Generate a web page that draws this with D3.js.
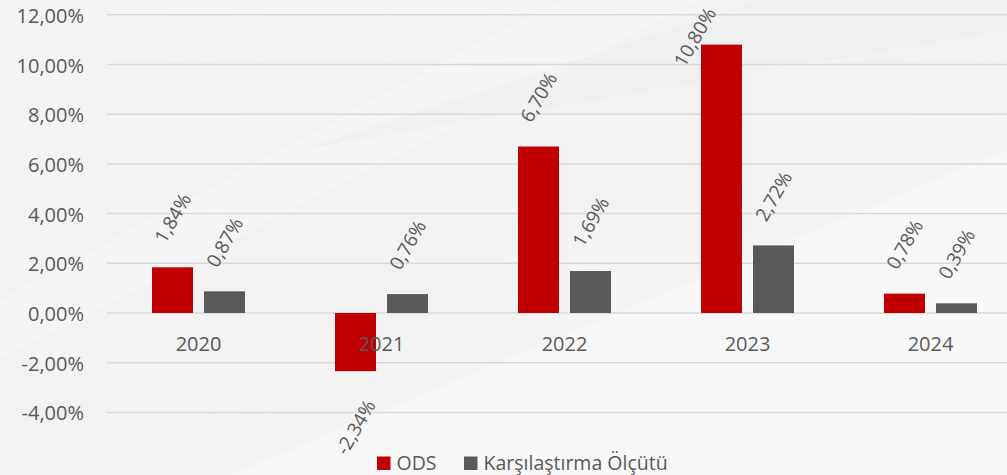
<!DOCTYPE html>
<html>
<head>
<meta charset="utf-8">
<script src="https://cdn.jsdelivr.net/npm/d3@7"></script>
<style>
  html, body { margin: 0; padding: 0; background: #f4f4f4; }
  svg { display: block; }
  text { font-family: "Open Sans", sans-serif; fill: #595959; }
</style>
</head>
<body>
<svg id="chart" width="1007" height="475"></svg>
<script>
const categories = ["2020", "2021", "2022", "2023", "2024"];
const seriesNames = ["ODS", "Karşılaştırma Ölçütü"];
const odsValues = [1.84, -2.34, 6.70, 10.80, 0.78];
const benchmarkValues = [0.87, 0.76, 1.69, 2.72, 0.39];
const yTicks = [-4, -2, 0, 2, 4, 6, 8, 10, 12];
const seriesColors = ["#c00000", "#595959"];

const W = 1007, H = 475;
const svg = d3.select("#chart");

// background
const defs = svg.append("defs");
const g1 = defs.append("linearGradient").attr("id", "bg").attr("x1", "0").attr("y1", "0").attr("x2", "1").attr("y2", "1");
g1.append("stop").attr("offset", "0").attr("stop-color", "#f4f4f4");
g1.append("stop").attr("offset", "0.5").attr("stop-color", "#f2f2f2");
g1.append("stop").attr("offset", "1").attr("stop-color", "#f9f9f9");
svg.append("rect").attr("width", W).attr("height", H).attr("fill", "url(#bg)");
svg.append("path").attr("d", "M230,475 L1007,150 L1007,475 Z").attr("fill", "#f8f8f8");
svg.append("path").attr("d", "M0,300 L560,0 L700,0 L0,360 Z").attr("fill", "#f6f6f6").attr("opacity", 0.7);
svg.append("path").attr("d", "M300,150 L1007,30 L1007,0 L760,0 Z").attr("fill", "#efefef").attr("opacity", 0.6);

const y = d3.scaleLinear().domain([-4, 12]).range([412.4, 14.8]);
const x0 = d3.scaleBand().domain(categories).range([107, 1022]).paddingInner(0).paddingOuter(0);
const x1 = d3.scaleBand().domain(seriesNames).range([45, 138]).paddingInner(0.2115).paddingOuter(0);

// gridlines
svg.append("g").selectAll("line").data(yTicks).join("line")
  .attr("x1", 107).attr("x2", W)
  .attr("y1", d => y(d)).attr("y2", d => y(d))
  .attr("stroke", "#d9d9d9").attr("stroke-width", 1.5);

// y axis labels
const fmt = v => v.toFixed(2).replace(".", ",") + "%";
svg.append("g").selectAll("text").data(yTicks).join("text")
  .attr("x", 84).attr("y", d => y(d) + 8)
  .attr("text-anchor", "end").attr("font-size", 20)
  .text(d => fmt(d));

// bars
const rows = categories.map((c, i) => ({ cat: c, vals: [odsValues[i], benchmarkValues[i]] }));
const groups = svg.append("g").selectAll("g").data(rows).join("g")
  .attr("transform", d => `translate(${x0(d.cat)},0)`);
groups.selectAll("rect").data(d => d.vals.map((v, j) => ({ v, s: seriesNames[j], j })))
  .join("rect")
  .attr("x", d => x1(d.s)).attr("width", x1.bandwidth())
  .attr("y", d => y(Math.max(0, d.v)))
  .attr("height", d => Math.abs(y(d.v) - y(0)))
  .attr("fill", d => seriesColors[d.j]);

// category labels
svg.append("g").selectAll("text").data(categories).join("text")
  .attr("x", d => x0(d) + x0.bandwidth() / 2).attr("y", 351)
  .attr("text-anchor", "middle").attr("font-size", 20)
  .text(d => d);

// data labels (rotated -60)
const labG = svg.append("g");
const ang = 60 * Math.PI / 180;
rows.forEach(r => {
  r.vals.forEach((v, j) => {
    const cx0 = x0(r.cat) + x1(seriesNames[j]) + x1.bandwidth() / 2;
    const t = labG.append("text")
      .attr("font-size", 19)
      .attr("text-anchor", "middle")
      .attr("dominant-baseline", "central")
      .text(fmt(v));
    const L = t.node().getComputedTextLength();
    const h = 17;
    const bh = L * Math.sin(ang) + h * Math.cos(ang);
    let cx = cx0, cy;
    if (v >= 0) {
      cy = y(v) - 22 - bh / 2;
      const top = cy - bh / 2;
      if (top < 5) {
        const shift = 5 - top;
        cy += shift;
        cx -= shift / Math.tan(ang);
      }
    } else {
      cy = y(v) + 26 + bh / 2;
    }
    t.attr("transform", `translate(${cx},${cy}) rotate(-60)`);
  });
});

// legend
const legend = svg.append("g");
const legItems = [{ x: 377, name: seriesNames[0], c: seriesColors[0] }, { x: 464, name: seriesNames[1], c: seriesColors[1] }];
legItems.forEach(it => {
  legend.append("rect").attr("x", it.x).attr("y", 456.5).attr("width", 13.5).attr("height", 13.5).attr("fill", it.c);
  legend.append("text").attr("x", it.x + 19.5).attr("y", 469.5).attr("font-size", 19.5).text(it.name);
});
</script>
</body>
</html>
